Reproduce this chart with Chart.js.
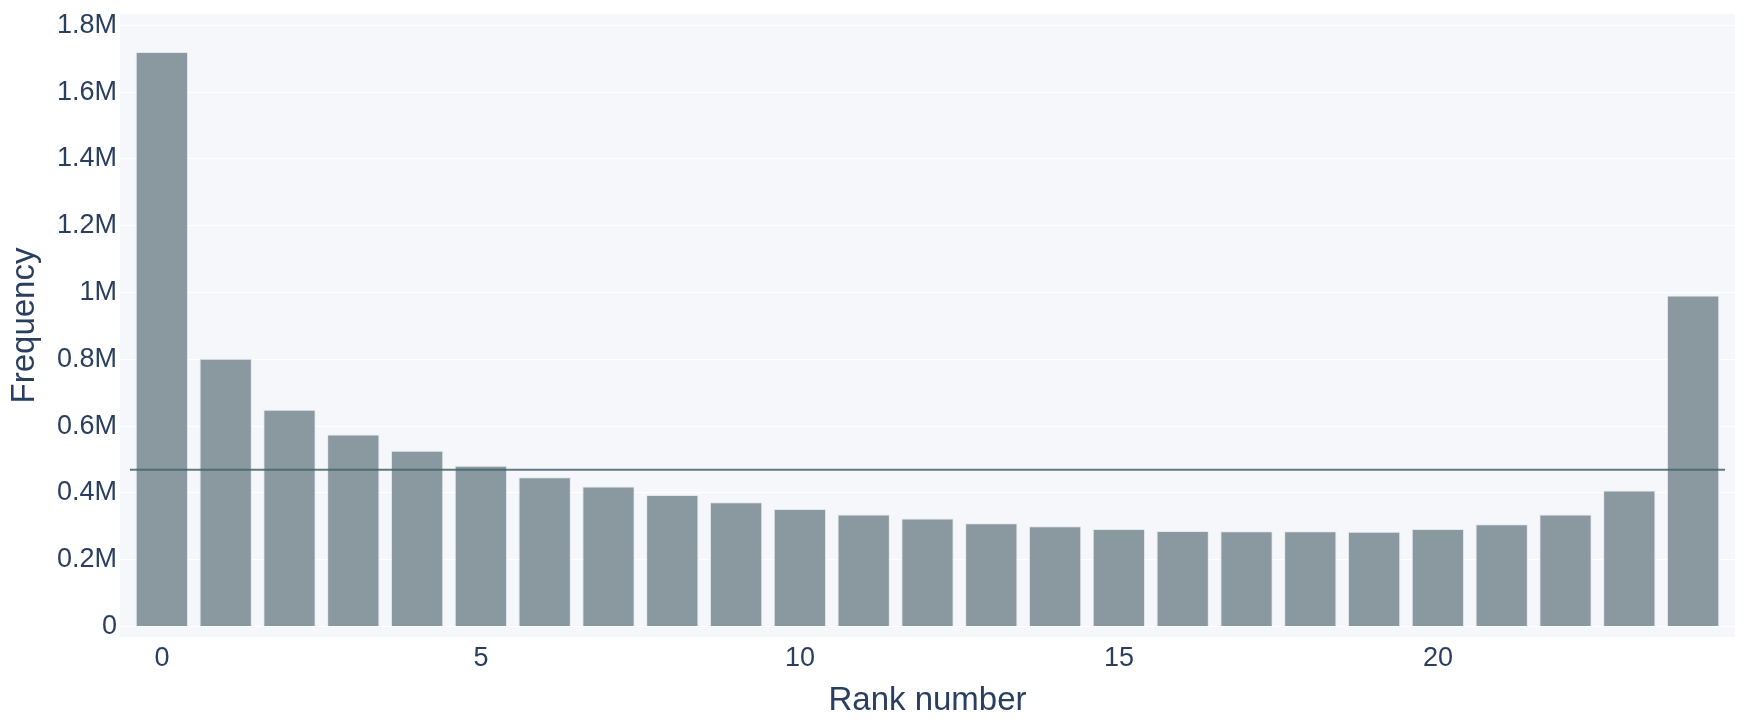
<!DOCTYPE html>
<html>
<head>
<meta charset="utf-8">
<script src="https://cdn.jsdelivr.net/npm/chart.js@4"></script>
<style>
  body { margin: 0; background: #fff; }
  #wrap { width: 1750px; height: 727px; }
</style>
</head>
<body>
<div id="wrap"><canvas id="myChart" width="1750" height="727"></canvas></div>
<script>
// data
var ranks = [0, 1, 2, 3, 4, 5, 6, 7, 8, 9, 10, 11, 12, 13, 14, 15, 16, 17, 18, 19, 20, 21, 22, 23, 24];
var frequency = [1720000, 802000, 649000, 575000, 526000, 481000, 447000, 419000, 394000, 372000,
  352000, 335000, 323000, 309000, 300000, 292000, 286000, 285000, 285000, 284000,
  292000, 306000, 335000, 407000, 991000];
var meanFrequency = 469000;
var xTicks = [0, 5, 10, 15, 20];
var yTicks = [0, 200000, 400000, 600000, 800000, 1000000, 1200000, 1400000, 1600000, 1800000];
var yTickLabels = ['0', '0.2M', '0.4M', '0.6M', '0.8M', '1M', '1.2M', '1.4M', '1.6M', '1.8M'];

var textColor = '#2a3f5f';
var fontFamily = '"Liberation Sans", Arial, sans-serif';

// light plot background, a bit wider than the bars area
var plotBg = {
  id: 'plotBg',
  beforeDraw: function(chart) {
    var a = chart.chartArea;
    var c = chart.ctx;
    c.save();
    c.fillStyle = '#f6f7fa';
    c.fillRect(a.left, a.top, a.right - a.left, a.bottom - a.top);
    c.restore();
  }
};

var ctx = document.getElementById('myChart').getContext('2d');
var chart = new Chart(ctx, {
  type: 'bar',
  data: {
    datasets: [
      {
        type: 'line',
        label: 'Mean',
        data: [{ x: -0.5, y: meanFrequency }, { x: 24.5, y: meanFrequency }],
        borderColor: 'rgba(72, 99, 107, 0.85)',
        borderWidth: 2,
        pointRadius: 0,
        fill: false,
        order: 0
      },
      {
        label: 'Frequency',
        data: ranks.map(function(r, i) { return { x: r, y: frequency[i] }; }),
        backgroundColor: 'rgb(137, 153, 159)',
        borderColor: 'rgba(225, 232, 236, 0.9)',
        borderWidth: 1,
        barPercentage: 0.82,
        categoryPercentage: 1,
        order: 1
      }
    ]
  },
  options: {
    responsive: false,
    animation: false,
    layout: { padding: { left: 0, right: 15, top: 14, bottom: 0 } },
    plugins: {
      legend: { display: false },
      tooltip: { enabled: false }
    },
    scales: {
      x: {
        type: 'linear',
        offset: false,
        min: -0.5 - 10 / 63.8,
        max: 24.5 + 10 / 63.8,
        afterBuildTicks: function(scale) {
          scale.ticks = xTicks.map(function(v) { return { value: v }; });
        },
        afterFit: function(scale) {
          scale.height = 90;
          scale.paddingLeft = 0;
          scale.paddingRight = 0;
        },
        grid: { display: false, drawTicks: false },
        border: { display: false },
        ticks: {
          color: textColor,
          font: { family: fontFamily, size: 27 },
          padding: 5,
          maxRotation: 0,
          callback: function(v) { return String(v); }
        },
        title: {
          display: true,
          text: 'Rank number',
          color: textColor,
          font: { family: fontFamily, size: 33 },
          padding: { top: 0, bottom: 6 }
        }
      },
      y: {
        min: -10.5 / 333.5 * 1e6,
        max: 1800000 + 11.3 / 333.5 * 1e6,
        afterBuildTicks: function(scale) {
          scale.ticks = yTicks.map(function(v) { return { value: v }; });
        },
        afterFit: function(scale) {
          scale.width = 120;
          scale.paddingTop = 0;
          scale.paddingBottom = 0;
        },
        grid: { color: '#ffffff', lineWidth: 1, drawTicks: false },
        border: { display: false },
        ticks: {
          color: textColor,
          font: { family: fontFamily, size: 27 },
          padding: 3,
          callback: function(v) { return yTickLabels[yTicks.indexOf(v)]; }
        },
        title: {
          display: true,
          text: 'Frequency',
          color: textColor,
          font: { family: fontFamily, size: 33 },
          padding: { top: 5, bottom: 0 }
        }
      }
    }
  },
  plugins: [plotBg]
});
</script>
</body>
</html>
